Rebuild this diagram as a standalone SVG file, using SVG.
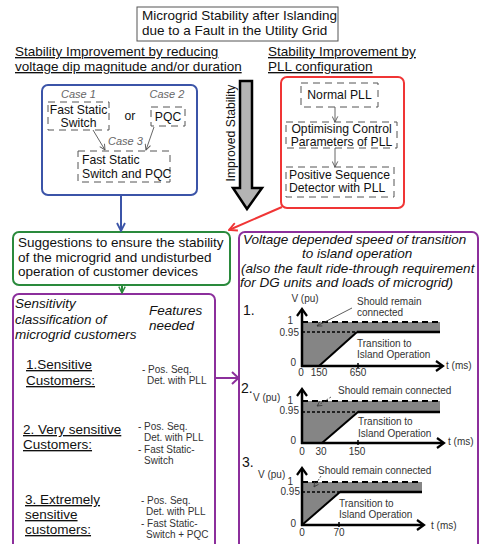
<svg xmlns="http://www.w3.org/2000/svg" width="480" height="544" viewBox="0 0 480 544">
  <style>
    text { font-family: "Liberation Sans", Arial, sans-serif; fill: #111; }
    .t135 { font-size: 13.5px; }
    .t12 { font-size: 12.2px; }
    .case { font-size: 11px; font-style: italic; fill: #666; }
    .it { font-style: italic; }
    .ul { text-decoration: underline; }
    .feat { font-size: 10px; fill: #333; }
    .g { font-size: 10px; fill: #333; }
    .num { font-size: 14px; }
    .dbox { fill: none; stroke: #555; stroke-width: 1; stroke-dasharray: 7 5; }
    .thin { stroke: #555; stroke-width: 0.9; fill: none; }
    .axis { stroke: #000; stroke-width: 2.5; fill: none; }
    .chev { stroke: #000; stroke-width: 2.2; fill: none; }
    .lvl1 { stroke: #000; stroke-width: 2; stroke-dasharray: 6 4; fill: none; }
    .lvl95 { stroke: #000; stroke-width: 1.6; stroke-dasharray: 3 2; fill: none; }
    .solid { stroke: #000; stroke-width: 2.5; fill: none; }
    .ramp { stroke: #000; stroke-width: 2; fill: none; }
    .band { fill: #858585; }
    .lead { stroke: #333; stroke-width: 0.8; fill: none; }
  </style>
  <defs>
    <marker id="ah-gray" viewBox="0 0 10 10" refX="9" refY="5" markerWidth="7" markerHeight="7" orient="auto" markerUnits="userSpaceOnUse">
      <path d="M1,1 L9,5 L1,9" fill="none" stroke="#555" stroke-width="1.3"/>
    </marker>
    <marker id="ah-blue" viewBox="0 0 10 10" refX="9" refY="5" markerWidth="10" markerHeight="10" orient="auto" markerUnits="userSpaceOnUse">
      <path d="M1,1 L9,5 L1,9" fill="none" stroke="#3b54a8" stroke-width="1.8"/>
    </marker>
    <marker id="ah-red" viewBox="0 0 10 10" refX="9" refY="5" markerWidth="10" markerHeight="10" orient="auto" markerUnits="userSpaceOnUse">
      <path d="M1,1 L9,5 L1,9" fill="none" stroke="#f03535" stroke-width="1.8"/>
    </marker>
    <marker id="ah-green" viewBox="0 0 10 10" refX="9" refY="5" markerWidth="8" markerHeight="8" orient="auto" markerUnits="userSpaceOnUse">
      <path d="M1,1 L9,5 L1,9" fill="none" stroke="#2a8a3c" stroke-width="1.8"/>
    </marker>
    <marker id="ah-lead" viewBox="0 0 10 10" refX="9" refY="5" markerWidth="6" markerHeight="6" orient="auto" markerUnits="userSpaceOnUse">
      <path d="M1,1 L9,5 L1,9" fill="none" stroke="#333" stroke-width="1.2"/>
    </marker>
  </defs>

  <!-- Title -->
  <g id="title">
    <rect x="137" y="7" width="201" height="34" fill="#fff" stroke="#555" stroke-width="1"/>
    <text class="t135" x="142" y="20">Microgrid Stability after Islanding</text>
    <text class="t135" x="142" y="35">due to a Fault in the Utility Grid</text>
  </g>

  <!-- Column headings -->
  <g id="heading-left">
    <text class="t135 ul" x="15" y="56">Stability Improvement by reducing </text>
    <text class="t135 ul" x="15" y="71">voltage dip magnitude and/or duration</text>
  </g>
  <g id="heading-right">
    <text class="t135 ul" x="268" y="56">Stability Improvement by </text>
    <text class="t135 ul" x="268" y="71">PLL configuration</text>
  </g>

  <!-- Voltage dip measures -->
  <g id="dip-measures">
    <rect x="42" y="85" width="155" height="110" rx="6" fill="none" stroke="#3b54a8" stroke-width="2"/>
    <text class="case" x="78.5" y="98" text-anchor="middle">Case 1</text>
    <rect class="dbox" x="48" y="102" width="61" height="28"/>
    <text class="t12" x="78.5" y="113.5" text-anchor="middle">Fast Static</text>
    <text class="t12" x="78.5" y="127" text-anchor="middle">Switch</text>
    <text class="t12" x="130" y="120" text-anchor="middle">or</text>
    <text class="case" x="167" y="98" text-anchor="middle">Case 2</text>
    <rect class="dbox" x="151" y="107" width="34" height="19"/>
    <text class="t12" x="168" y="121" text-anchor="middle">PQC</text>
    <text class="case" x="125.5" y="145" text-anchor="middle">Case 3</text>
    <rect class="dbox" x="78" y="151" width="92" height="31"/>
    <text class="t12" x="82" y="163.5">Fast Static</text>
    <text class="t12" x="82" y="177.5">Switch and PQC</text>
    <line class="thin" x1="93" y1="130" x2="105" y2="150" marker-end="url(#ah-gray)"/>
    <line class="thin" x1="154" y1="127" x2="146" y2="150" marker-end="url(#ah-gray)"/>
  </g>

  <!-- Improved stability arrow -->
  <g id="improved-stability">
    <polygon points="240,81 252,81 252,188 262,188 247,209 233,188 240,188" fill="#b4b4b4" stroke="#000" stroke-width="2.5" stroke-linejoin="miter"/>
    <text class="t12" transform="translate(234.5,133) rotate(-90)" text-anchor="middle">Improved Stability</text>
  </g>

  <!-- PLL configuration -->
  <g id="pll-config">
    <rect x="281" y="77" width="123" height="131" rx="6" fill="none" stroke="#f03535" stroke-width="2"/>
    <rect class="dbox" x="301" y="83" width="77" height="24"/>
    <text class="t12" x="339.5" y="99" text-anchor="middle">Normal PLL</text>
    <rect class="dbox" x="286" y="122" width="111" height="26"/>
    <text class="t12" x="341.5" y="133" text-anchor="middle">Optimising Control</text>
    <text class="t12" x="341.5" y="146" text-anchor="middle">Parameters of PLL</text>
    <rect class="dbox" x="286" y="167" width="108" height="30"/>
    <text class="t12" x="289" y="178.5">Positive Sequence</text>
    <text class="t12" x="289" y="191.5">Detector with PLL</text>
    <line class="thin" x1="335" y1="107" x2="335" y2="122" marker-end="url(#ah-gray)"/>
    <line class="thin" x1="335" y1="148" x2="335" y2="167" marker-end="url(#ah-gray)"/>
  </g>

  <!-- Suggestions -->
  <g id="suggestions">
    <rect x="13" y="232" width="217" height="53" rx="6" fill="none" stroke="#2a8a3c" stroke-width="2"/>
    <text class="t135" x="18" y="247">Suggestions to ensure the stability</text>
    <text class="t135" x="18" y="261.5">of the microgrid and undisturbed</text>
    <text class="t135" x="18" y="276">operation of customer devices</text>
  </g>

  <!-- Customer classes -->
  <g id="customer-classes">
    <rect x="13" y="294" width="202" height="262" rx="6" fill="none" stroke="#8c2f9c" stroke-width="2"/>
    <text class="t135 it" x="15" y="308">Sensitivity</text>
    <text class="t135 it" x="15" y="323.5">classification of</text>
    <text class="t135 it" x="15" y="339">microgrid customers</text>
    <text class="t135 it" x="149" y="315">Features</text>
    <text class="t135 it" x="149" y="330">needed</text>

    <text class="t135 ul" x="26" y="369">1.Sensitive </text>
    <text class="t135 ul" x="26" y="385">Customers:</text>
    <text class="feat" x="142" y="373">- Pos. Seq.</text>
    <text class="feat" x="147" y="384">Det. with PLL</text>

    <text class="t135 ul" x="23" y="434">2. Very sensitive</text>
    <text class="t135 ul" x="23" y="449">Customers:</text>
    <text class="feat" x="138" y="430">- Pos. Seq.</text>
    <text class="feat" x="144" y="441">Det. with PLL</text>
    <text class="feat" x="138" y="453">- Fast Static-</text>
    <text class="feat" x="144" y="464">Switch</text>

    <text class="t135 ul" x="25" y="504">3. Extremely </text>
    <text class="t135 ul" x="25" y="519">sensitive </text>
    <text class="t135 ul" x="25" y="534">customers:</text>
    <text class="feat" x="141" y="504">- Pos. Seq.</text>
    <text class="feat" x="146" y="515">Det. with PLL</text>
    <text class="feat" x="141" y="527">- Fast Static-</text>
    <text class="feat" x="146" y="538">Switch + PQC</text>
  </g>

  <!-- Transition speed -->
  <g id="transition-speed">
    <rect x="239" y="232" width="239" height="324" rx="6" fill="none" stroke="#8c2f9c" stroke-width="2"/>
    <text class="t135 it" x="243" y="244">Voltage depended speed of transition</text>
    <text class="t135 it" x="302" y="258">to island operation</text>
    <text class="t135 it" x="241" y="273">(also the fault ride-through requirement</text>
    <text class="t135 it" x="240" y="287">for DG units and loads of microgrid)</text>

    <!-- Plot 1 -->
    <g id="plot-1">
      <polygon class="band" points="302,322 440,322 440,332 357,332 319,366 302,366"/>
      <line class="lvl1" x1="302" y1="322" x2="440" y2="322"/>
      <line class="lvl95" x1="302" y1="332" x2="357" y2="332"/>
      <line class="solid" x1="357" y1="332" x2="440" y2="332"/>
      <line class="ramp" x1="319" y1="366" x2="357" y2="332"/>
      <line class="axis" x1="302" y1="367" x2="302" y2="310"/>
      <line class="axis" x1="301" y1="366" x2="442" y2="366"/>
      <polyline class="chev" points="297,316 302,309 307,316"/>
      <polyline class="chev" points="436,361 443,366 436,371"/>
      <line x1="358" y1="363" x2="358" y2="368" stroke="#000" stroke-width="1.5"/>
      <line class="lead" x1="352" y1="308" x2="317" y2="326" marker-end="url(#ah-lead)"/>
      <text class="num" x="243" y="315">1.</text>
      <text class="g" x="305" y="302" text-anchor="middle">V (pu)</text>
      <text class="g" x="357" y="305">Should remain</text>
      <text class="g" x="357" y="316">connected</text>
      <text class="g" x="293" y="324" text-anchor="end">1</text>
      <text class="g" x="299" y="336" text-anchor="end">0.95</text>
      <text class="g" x="296" y="366" text-anchor="end">0</text>
      <text class="g" x="301" y="376" text-anchor="middle">0</text>
      <text class="g" x="319" y="376" text-anchor="middle">150</text>
      <text class="g" x="358" y="376" text-anchor="middle">650</text>
      <text class="g" x="446" y="369">t (ms)</text>
      <text class="g" x="357" y="346.5">Transition to</text>
      <text class="g" x="357" y="358">Island Operation</text>
    </g>

    <!-- Plot 2 -->
    <g id="plot-2">
      <polygon class="band" points="302,401 440,401 440,412 358,412 322,443 302,443"/>
      <line class="lvl1" x1="302" y1="401" x2="440" y2="401"/>
      <line class="lvl95" x1="302" y1="412" x2="358" y2="412"/>
      <line class="solid" x1="358" y1="412" x2="440" y2="412"/>
      <line class="ramp" x1="322" y1="443" x2="358" y2="412"/>
      <line class="axis" x1="302" y1="444" x2="302" y2="390"/>
      <line class="axis" x1="301" y1="443" x2="443" y2="443"/>
      <polyline class="chev" points="297,396 302,389 307,396"/>
      <polyline class="chev" points="437,438 444,443 437,448"/>
      <line x1="358" y1="440" x2="358" y2="445" stroke="#000" stroke-width="1.5"/>
      <line class="lead" x1="331" y1="397" x2="317" y2="406" stroke-dasharray="2 1.5" marker-end="url(#ah-lead)"/>
      <text class="num" x="241" y="393">2.</text>
      <text class="g" x="253" y="401">V (pu)</text>
      <text class="g" x="338" y="394">Should remain connected</text>
      <text class="g" x="293" y="404" text-anchor="end">1</text>
      <text class="g" x="299" y="414" text-anchor="end">0.95</text>
      <text class="g" x="296" y="444" text-anchor="end">0</text>
      <text class="g" x="302" y="455" text-anchor="middle">0</text>
      <text class="g" x="321" y="455" text-anchor="middle">30</text>
      <text class="g" x="357" y="455" text-anchor="middle">150</text>
      <text class="g" x="448" y="445">t (ms)</text>
      <text class="g" x="358" y="425">Transition to</text>
      <text class="g" x="358" y="437">Island Operation</text>
    </g>

    <!-- Plot 3 -->
    <g id="plot-3">
      <polygon class="band" points="302,482 422,482 422,492 340,492 302,525"/>
      <line class="lvl1" x1="302" y1="482" x2="422" y2="482"/>
      <line class="lvl95" x1="302" y1="492" x2="340" y2="492"/>
      <line class="solid" x1="340" y1="492" x2="422" y2="492"/>
      <line class="ramp" x1="302" y1="525" x2="340" y2="492"/>
      <line class="axis" x1="302" y1="526" x2="302" y2="469"/>
      <line class="axis" x1="301" y1="525" x2="423" y2="525"/>
      <polyline class="chev" points="297,475 302,468 307,475"/>
      <polyline class="chev" points="417,520 424,525 417,530"/>
      <line x1="339" y1="522" x2="339" y2="527" stroke="#000" stroke-width="1.5"/>
      <line class="lead" x1="321" y1="476" x2="314" y2="487" stroke-dasharray="2 1.5" marker-end="url(#ah-lead)"/>
      <text class="num" x="242" y="467">3.</text>
      <text class="g" x="258" y="478">V (pu)</text>
      <text class="g" x="318" y="474">Should remain connected</text>
      <text class="g" x="293" y="485" text-anchor="end">1</text>
      <text class="g" x="300" y="495" text-anchor="end">0.95</text>
      <text class="g" x="296" y="527" text-anchor="end">0</text>
      <text class="g" x="302" y="536" text-anchor="middle">0</text>
      <text class="g" x="339" y="536" text-anchor="middle">70</text>
      <text class="g" x="431" y="529">t (ms)</text>
      <text class="g" x="339" y="507">Transition to</text>
      <text class="g" x="339" y="518">Island Operation</text>
    </g>
  </g>

  <!-- Connectors -->
  <g id="connectors">
    <line x1="121" y1="195" x2="121" y2="231" stroke="#3b54a8" stroke-width="2" marker-end="url(#ah-blue)"/>
    <line x1="282" y1="207" x2="229" y2="230" stroke="#f03535" stroke-width="2" marker-end="url(#ah-red)"/>
    <line x1="122" y1="285" x2="122" y2="293" stroke="#2a8a3c" stroke-width="2" marker-end="url(#ah-green)"/>
    <line x1="215" y1="378" x2="238" y2="378" stroke="#8c2f9c" stroke-width="2"/>
    <polyline points="232,372 238.5,378 232,384" fill="none" stroke="#8c2f9c" stroke-width="2"/>
  </g>
</svg>
